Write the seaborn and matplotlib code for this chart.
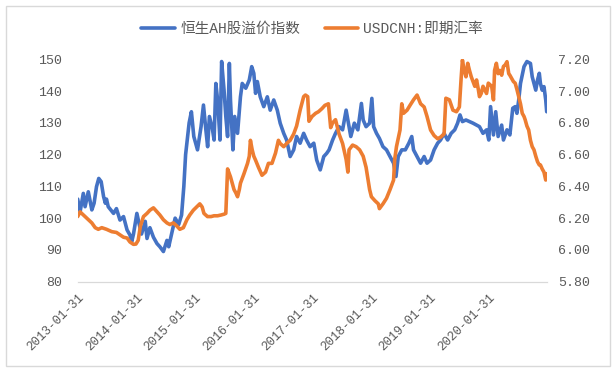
"""AH premium index vs USDCNH spot, dual axis line chart."""

import pandas as pd
import matplotlib.pyplot as plt
import matplotlib.patches as mpatches
import seaborn as sns

# 恒生AH股溢价指数 (left axis)
ah_dates = [
    '2013-01-31', '2013-02-15', '2013-03-07', '2013-03-18', '2013-04-07',
    '2013-04-29', '2013-05-13', '2013-05-28', '2013-06-11', '2013-06-26',
    '2013-07-11', '2013-07-22', '2013-07-29', '2013-08-09', '2013-09-11',
    '2013-09-29', '2013-10-21', '2013-11-12', '2013-12-04', '2013-12-22',
    '2014-01-02', '2014-01-13', '2014-02-03', '2014-02-18', '2014-03-04',
    '2014-03-27', '2014-04-07', '2014-04-25', '2014-05-17', '2014-06-08',
    '2014-06-26', '2014-07-18', '2014-08-09', '2014-08-20', '2014-09-07',
    '2014-09-29', '2014-10-21', '2014-11-08', '2014-11-22', '2014-12-03',
    '2014-12-25', '2015-01-08', '2015-01-23', '2015-02-15', '2015-03-09',
    '2015-03-24', '2015-04-08', '2015-04-19', '2015-04-30', '2015-05-18',
    '2015-05-29', '2015-06-09', '2015-06-20', '2015-07-05', '2015-07-15',
    '2015-07-30', '2015-08-10', '2015-08-21', '2015-09-01', '2015-09-08',
    '2015-09-23', '2015-10-04', '2015-10-22', '2015-11-09', '2015-11-20',
    '2015-12-12', '2016-01-03', '2016-01-18', '2016-01-31', '2016-02-11',
    '2016-02-22', '2016-03-11', '2016-04-02', '2016-04-24', '2016-05-12',
    '2016-06-03', '2016-06-25', '2016-07-13', '2016-08-04', '2016-08-22',
    '2016-09-13', '2016-10-05', '2016-10-23', '2016-11-14', '2016-12-06',
    '2016-12-24', '2017-01-15', '2017-02-07', '2017-02-25', '2017-03-19',
    '2017-04-10', '2017-04-28', '2017-05-13', '2017-06-04', '2017-06-22',
    '2017-07-14', '2017-08-05', '2017-08-27', '2017-09-14', '2017-09-25',
    '2017-10-17', '2017-11-08', '2017-11-30', '2017-12-11', '2017-12-29',
    '2018-01-20', '2018-02-03', '2018-02-14', '2018-03-04', '2018-03-22',
    '2018-04-13', '2018-05-05', '2018-05-27', '2018-06-18', '2018-07-03',
    '2018-07-17', '2018-08-08', '2018-08-30', '2018-09-21', '2018-10-09',
    '2018-10-20', '2018-11-11', '2018-12-03', '2018-12-25', '2019-01-12',
    '2019-02-03', '2019-02-25', '2019-03-19', '2019-04-06', '2019-04-28',
    '2019-05-20', '2019-06-11', '2019-07-03', '2019-07-21', '2019-08-05',
    '2019-08-20', '2019-09-11', '2019-10-03', '2019-10-25', '2019-11-16',
    '2019-12-04', '2019-12-26', '2020-01-17', '2020-01-31', '2020-02-11',
    '2020-02-29', '2020-03-14', '2020-03-29', '2020-04-20', '2020-05-01',
    '2020-05-23', '2020-06-10', '2020-06-28', '2020-07-13', '2020-07-24',
    '2020-08-04', '2020-08-15', '2020-09-06', '2020-09-24', '2020-10-16',
    '2020-10-27', '2020-11-07', '2020-11-18', '2020-11-29', '2020-12-10',
    '2020-12-17', '2020-12-28', '2021-01-08', '2021-01-19', '2021-01-25',
]
ah_vals = [
    106, 102, 107.8, 103.6, 108.3, 102.6, 104.7, 109.9, 112.5, 111.5,
    106.8, 104.7, 106, 103.6, 101.5, 103, 99.4, 100.5, 96.3, 94.7,
    92.6, 95, 101.5, 98, 95, 99, 93.6, 97, 94, 92,
    91, 89.5, 93, 91, 95, 100, 98, 101, 110, 120,
    130, 133.5, 125.7, 121.5, 128.8, 135.6, 127.8, 122.5, 132, 128.3,
    124.6, 142.4, 137.2, 124.6, 149.3, 140.3, 132, 125.7, 148.7, 137.2,
    121.5, 132, 126.7, 138.2, 142.4, 140.9, 143.5, 147.7, 145.6, 139.3,
    143, 138.2, 135.1, 138.2, 134, 137.2, 134, 129.9, 126.7, 124.6,
    119.4, 121.5, 125.7, 123.6, 126.7, 124.6, 122.5, 123.6, 118.3, 115.2,
    119.4, 120.4, 121.5, 124.6, 126.7, 128.8, 127.8, 134, 128.8, 125.7,
    129.9, 127.8, 136.1, 130.9, 128.8, 129.9, 137.7, 128.8, 126.7, 125.1,
    122.5, 121.5, 119.4, 117.3, 113.1, 119.4, 121.5, 121.5, 123.6, 125.7,
    121.5, 119.4, 117.3, 119.4, 117.3, 118.3, 121.5, 123.6, 124.6, 126.7,
    124.6, 126.7, 127.8, 129.9, 132.5, 130.4, 130.9, 130.4, 129.9, 129.3,
    128.8, 126.7, 127.8, 124.6, 135.1, 126.2, 133.5, 125.7, 129.3, 124.6,
    127.8, 126.2, 134.6, 135.1, 133, 137.2, 142.4, 147.7, 149.3, 148.7,
    144.5, 142.4, 140.3, 143.5, 145.6, 142.4, 140.3, 141.4, 137.2, 133.5,
]

# USDCNH:即期汇率 (right axis)
fx_dates = [
    '2013-01-31', '2013-02-15', '2013-02-25', '2013-03-18', '2013-04-07',
    '2013-04-29', '2013-05-20', '2013-06-08', '2013-06-30', '2013-07-29',
    '2013-08-31', '2013-09-29', '2013-10-21', '2013-11-12', '2013-12-04',
    '2013-12-22', '2014-01-13', '2014-01-28', '2014-02-11', '2014-02-25',
    '2014-03-16', '2014-04-07', '2014-04-25', '2014-05-17', '2014-06-08',
    '2014-06-26', '2014-07-18', '2014-08-09', '2014-08-27', '2014-09-18',
    '2014-10-10', '2014-10-28', '2014-11-19', '2014-12-11', '2014-12-29',
    '2015-01-20', '2015-03-01', '2015-03-09', '2015-03-16', '2015-03-27',
    '2015-04-18', '2015-05-10', '2015-05-29', '2015-06-20', '2015-07-12',
    '2015-07-30', '2015-08-10', '2015-08-17', '2015-08-21', '2015-09-01',
    '2015-09-08', '2015-09-19', '2015-09-30', '2015-10-11', '2015-10-22',
    '2015-11-02', '2015-11-09', '2015-12-01', '2015-12-23', '2016-01-03',
    '2016-01-10', '2016-01-21', '2016-01-31', '2016-02-11', '2016-02-29',
    '2016-03-22', '2016-04-13', '2016-05-01', '2016-05-23', '2016-06-14',
    '2016-07-02', '2016-07-13', '2016-08-04', '2016-08-22', '2016-09-13',
    '2016-10-05', '2016-10-23', '2016-11-14', '2016-12-06', '2016-12-17',
    '2016-12-31', '2017-01-08', '2017-01-27', '2017-02-18', '2017-03-08',
    '2017-03-30', '2017-04-17', '2017-05-09', '2017-05-23', '2017-06-04',
    '2017-06-22', '2017-07-14', '2017-08-05', '2017-08-27', '2017-09-07',
    '2017-09-14', '2017-10-06', '2017-10-28', '2017-11-19', '2017-12-11',
    '2017-12-29', '2018-01-20', '2018-01-31', '2018-02-22', '2018-03-15',
    '2018-03-22', '2018-04-13', '2018-05-05', '2018-05-27', '2018-06-18',
    '2018-06-25', '2018-07-06', '2018-07-28', '2018-08-08', '2018-08-19',
    '2018-09-10', '2018-09-28', '2018-10-20', '2018-11-11', '2018-12-03',
    '2018-12-25', '2019-01-12', '2019-02-03', '2019-02-25', '2019-03-19',
    '2019-04-06', '2019-04-28', '2019-05-09', '2019-05-31', '2019-06-22',
    '2019-07-14', '2019-08-01', '2019-08-12', '2019-08-20', '2019-08-31',
    '2019-09-11', '2019-09-22', '2019-10-03', '2019-10-14', '2019-10-25',
    '2019-11-05', '2019-11-16', '2019-11-27', '2019-12-04', '2019-12-15',
    '2019-12-26', '2020-01-17', '2020-01-28', '2020-02-18', '2020-02-29',
    '2020-03-07', '2020-03-18', '2020-03-29', '2020-04-09', '2020-04-20',
    '2020-05-01', '2020-05-12', '2020-05-23', '2020-06-03', '2020-06-10',
    '2020-06-21', '2020-07-02', '2020-07-13', '2020-07-24', '2020-08-04',
    '2020-08-15', '2020-08-26', '2020-09-06', '2020-09-13', '2020-09-24',
    '2020-10-05', '2020-10-16', '2020-10-27', '2020-11-07', '2020-11-18',
    '2020-11-29', '2020-12-10', '2020-12-17', '2020-12-28', '2021-01-08',
    '2021-01-19', '2021-01-25',
]
fx_vals = [
    6.21, 6.24, 6.23, 6.21, 6.19, 6.17, 6.14, 6.13, 6.14, 6.13,
    6.115, 6.11, 6.095, 6.08, 6.075, 6.05, 6.035, 6.037, 6.06, 6.15,
    6.21, 6.23, 6.25, 6.265, 6.24, 6.22, 6.19, 6.17, 6.16, 6.17,
    6.15, 6.13, 6.14, 6.19, 6.22, 6.25, 6.29, 6.28, 6.27, 6.23,
    6.21, 6.21, 6.215, 6.215, 6.22, 6.225, 6.23, 6.42, 6.51, 6.48,
    6.46, 6.42, 6.38, 6.36, 6.335, 6.38, 6.42, 6.48, 6.545, 6.59,
    6.69, 6.63, 6.59, 6.565, 6.52, 6.47, 6.49, 6.545, 6.545, 6.61,
    6.69, 6.67, 6.65, 6.67, 6.69, 6.73, 6.78, 6.88, 6.965, 6.975,
    6.965, 6.81, 6.84, 6.86, 6.87, 6.89, 6.91, 6.92, 6.77, 6.80,
    6.82, 6.73, 6.67, 6.57, 6.49, 6.63, 6.66, 6.65, 6.63, 6.59,
    6.52, 6.38, 6.335, 6.31, 6.29, 6.26, 6.29, 6.325, 6.38, 6.44,
    6.57, 6.65, 6.755, 6.92, 6.86, 6.88, 6.91, 6.945, 6.975, 6.92,
    6.90, 6.84, 6.755, 6.72, 6.70, 6.71, 6.73, 6.955, 6.945, 6.88,
    6.87, 6.90, 7.08, 7.195, 7.13, 7.09, 7.175, 7.13, 7.09, 7.06,
    7.03, 7.07, 7.01, 6.965, 6.985, 7.03, 6.985, 7.05, 7.03, 6.945,
    7.13, 7.175, 7.11, 7.13, 7.10, 7.155, 7.165, 7.185, 7.11, 7.10,
    7.08, 7.06, 7.05, 7.01, 6.965, 6.92, 6.86, 6.84, 6.82, 6.78,
    6.755, 6.69, 6.65, 6.63, 6.59, 6.555, 6.535, 6.535, 6.51, 6.49,
    6.44, 6.48,
]

xtick_dates = ['2013-01-31', '2014-01-31', '2015-01-31', '2016-01-31',
               '2017-01-31', '2018-01-31', '2019-01-31', '2020-01-31']
left_ticks = [80, 90, 100, 110, 120, 130, 140, 150]
right_ticks = [5.80, 6.00, 6.20, 6.40, 6.60, 6.80, 7.00, 7.20]

BLUE = '#4472C4'
ORANGE = '#ED7D31'
GREY = '#595959'
LINEGREY = '#D9D9D9'

sns.set_style('white')
plt.rcParams['font.family'] = ['Liberation Mono', 'Noto Sans CJK SC', 'DejaVu Sans']

ah = pd.DataFrame({'date': pd.to_datetime(ah_dates), 'val': ah_vals})
fx = pd.DataFrame({'date': pd.to_datetime(fx_dates), 'val': fx_vals})

fig = plt.figure(figsize=(6.16, 3.74), dpi=100)
ax = fig.add_axes([0.1261, 0.2468, 0.7614, 0.5946])
ax2 = ax.twinx()

sns.lineplot(data=ah, x='date', y='val', ax=ax, color=BLUE, lw=2.6,
             label='恒生AH股溢价指数', legend=False)
sns.lineplot(data=fx, x='date', y='val', ax=ax2, color=ORANGE, lw=2.6,
             label='USDCNH:即期汇率', legend=False)

ax.set_xlim(pd.Timestamp('2013-01-31'), pd.Timestamp('2021-01-25'))
ax.set_ylim(80, 150)
ax2.set_ylim(5.8, 7.2)
ax.set_yticks(left_ticks)
ax2.set_yticks(right_ticks)
ax2.set_yticklabels(['%.2f' % v for v in right_ticks])
ax.set_xticks(pd.to_datetime(xtick_dates))
ax.set_xticklabels(xtick_dates, rotation=45, ha='right', va='top',
                   rotation_mode='anchor')
for a in (ax, ax2):
    a.set_xlabel('')
    a.set_ylabel('')
    for s in ('top', 'left', 'right'):
        a.spines[s].set_visible(False)
    a.spines['bottom'].set_color(LINEGREY)
    a.grid(False)

ax.tick_params(axis='y', length=0, pad=11.5, labelsize=9.5, labelcolor=GREY)
ax2.tick_params(axis='y', length=0, pad=8, labelsize=9.5, labelcolor=GREY)
ax.tick_params(axis='x', length=4, width=0.8, color=LINEGREY, pad=3,
               labelsize=9, labelcolor=GREY)

h1, l1 = ax.get_legend_handles_labels()
h2, l2 = ax2.get_legend_handles_labels()
fig.legend(h1 + h2, l1 + l2, loc='center', bbox_to_anchor=(0.507, 0.922),
           ncol=2, frameon=False, fontsize=10.5, labelcolor=GREY,
           handlelength=2.3, handletextpad=0.35, columnspacing=1.7)

# chart-area border
fig.patches.append(mpatches.Rectangle((0.009, 0.022), 0.981, 0.962,
                                      transform=fig.transFigure, fill=False,
                                      edgecolor=LINEGREY, lw=1))

fig.savefig('out.png', dpi=100)
